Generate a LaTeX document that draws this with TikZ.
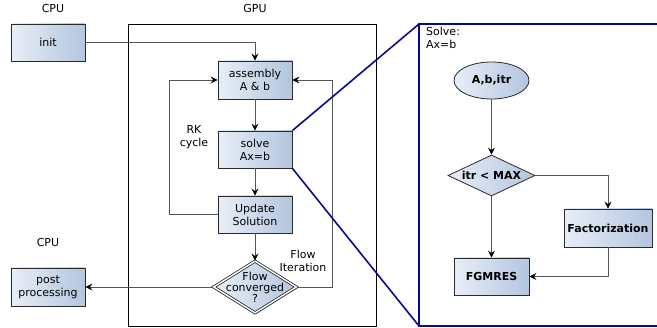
\documentclass[tikz,border=0pt]{standalone}
\usepackage{fontspec}
\setmainfont{DejaVu Sans}
\usetikzlibrary{arrows.meta,shapes.geometric,shadows}
\definecolor{boxL}{HTML}{E8EEF7}
\definecolor{boxR}{HTML}{B3C5DF}
\definecolor{edge}{HTML}{2A2A2A}
\definecolor{conn}{HTML}{555555}
\definecolor{navyb}{HTML}{0A0A8C}
\tikzset{
  every node/.style={font=\fontsize{11}{13}\selectfont},
  shade/.style={left color=boxL, right color=boxR},
  shad/.style={drop shadow={shadow xshift=1.2pt, shadow yshift=-1.2pt, opacity=0.35, fill=black}},
  procbox/.style={draw=edge, line width=0.8pt, shade, shad, rectangle, inner sep=0pt, align=center},
  oval/.style={draw=edge, line width=0.8pt, shade, ellipse, inner sep=0pt, minimum width=75pt, minimum height=37pt, font=\fontsize{11}{13}\selectfont\bfseries},
  dia/.style={draw=edge, line width=0.8pt, shade, diamond, inner sep=0pt},
  txt/.style={inner sep=0pt, align=center},
  conline/.style={draw=conn, line width=0.9pt},
  arr/.style={conline, -{Stealth[length=7pt, width=7pt, inset=2.5pt, color=black]}},
  blueline/.style={draw=navyb, line width=1.6pt},
}
\begin{document}
\begin{tikzpicture}[x=1pt, y=-1pt]
\useasboundingbox (0,0) rectangle (657,328);
% labels
\node[txt] (cpu1) at (53,9) {CPU};
\node[txt] (gpu) at (255,9) {GPU};
\node[txt] (cpu2) at (48,242) {CPU};
% GPU frame
\draw[line width=0.8pt, black] (128,24) rectangle (376,326);
% boxes
\node[procbox, minimum width=74pt, minimum height=37pt] (init) at (48,42.5) {init};
\node[procbox, minimum width=74pt, minimum height=38pt] (asm) at (255,80) {assembly\\A \& b};
\node[procbox, minimum width=74pt, minimum height=37pt] (solve) at (255,149.5) {solve\\Ax=b};
\node[procbox, minimum width=74pt, minimum height=37pt] (upd) at (255,214.5) {Update\\Solution};
\node[procbox, minimum width=74pt, minimum height=38pt] (post) at (48,287) {post\\processing};
% double diamond
\node[dia, shad, minimum width=83pt, minimum height=52pt, double=white, double distance=1.4pt] (conv) at (255,287) {};
\node[txt, font=\fontsize{11}{11}\selectfont] (convt) at (255,287.5) {Flow\\converged\\?};
% side labels
\node[txt] (rk) at (194,137) {RK\\cycle};
\node[txt] (fi) at (303,261) {Flow\\Iteration};
% connectors
\coordinate (ic) at (255,42.5);
\draw[arr] (init.east) -- (ic) -- (asm.north);
\draw[arr] (asm) -- (solve);
\draw[arr] (solve) -- (upd);
\draw[arr] (upd) -- (conv.north);
\coordinate (rkb) at (169,214.5);
\coordinate (rkt) at (169,80);
\draw[arr] (upd.west) -- (rkb) -- (rkt) -- (asm.west);
\coordinate (flb) at (332,287);
\coordinate (flt) at (332,80);
\draw[arr] (conv.east) -- (flb) -- (flt) -- (asm.east);
\draw[arr] (conv.west) -- (post.east);
% blue zoom frame
\coordinate (ftl) at (419,24);
\coordinate (fbl) at (419,326);
\coordinate (ftr) at (660,24);
\coordinate (fbr) at (660,326);
\draw[blueline] (ftr) -- (ftl) -- (fbl) -- (fbr);
\draw[blueline] (solve.north east) -- (ftl);
\draw[blueline] (solve.south east) -- (fbl);
\node[txt, anchor=north west, align=left] (solvelbl) at (426,27) {Solve:\\Ax=b};
% right panel
\node[oval] (abi) at (491.5,80.5) {A,b,itr};
\node[dia, minimum width=87pt, minimum height=41pt] (itr) at (491.5,175.5) {};
\node[txt, font=\fontsize{11}{13}\selectfont\bfseries] (itrt) at (491.5,175.5) {itr < MAX};
\node[procbox, minimum width=88pt, minimum height=38pt, font=\fontsize{11}{13}\selectfont\bfseries] (fact) at (608,228) {Factorization};
\node[procbox, minimum width=75pt, minimum height=37pt, font=\fontsize{11}{13}\selectfont\bfseries] (fgm) at (491.5,276.5) {FGMRES};
\draw[arr] (abi) -- (itr.north);
\coordinate (fc) at (608,175.5);
\draw[arr] (itr.east) -- (fc) -- (fact.north);
\draw[arr] (itr.south) -- (fgm.north);
\coordinate (fb) at (608,276.5);
\draw[arr] (fact.south) -- (fb) -- (fgm.east);
\end{tikzpicture}
\end{document}
